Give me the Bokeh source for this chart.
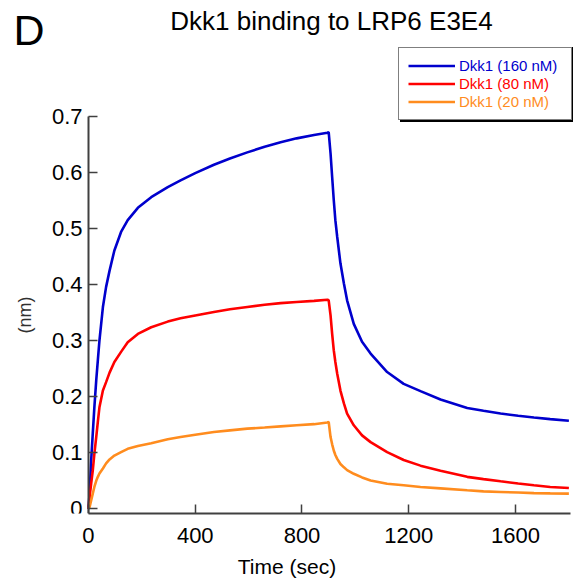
from bokeh.plotting import figure
from bokeh.models import Range1d, FixedTicker, Label, Legend, LegendItem
from bokeh.core.properties import value
from bokeh.embed import file_html
from bokeh.resources import INLINE

# ---- data ----
time_s = [0, 4, 10, 16, 22, 29, 35, 41, 54, 66, 79, 97, 122, 147, 185, 235, 297, 345,
          400, 470, 530, 595, 660, 720, 780, 845, 895, 900, 907, 913, 919, 925, 932,
          944, 957, 969, 994, 1025, 1057, 1119, 1181, 1244, 1319, 1419, 1480, 1544,
          1610, 1669, 1730, 1800]

dkk1_160 = [0.0, 0.027, 0.086, 0.134, 0.181, 0.229, 0.265, 0.300, 0.360, 0.396, 0.425,
            0.461, 0.494, 0.515, 0.537, 0.556, 0.574, 0.586,
            0.599, 0.614, 0.625, 0.636, 0.646, 0.654, 0.661, 0.667, 0.671, 0.672, 0.634,
            0.592, 0.551, 0.515, 0.485,
            0.438, 0.402, 0.372, 0.330, 0.298, 0.277, 0.244, 0.223, 0.210, 0.195, 0.180,
            0.175, 0.170, 0.166, 0.163, 0.160, 0.157]

dkk1_80 = [0.0, 0.021, 0.045, 0.068, 0.098, 0.128, 0.155, 0.181, 0.211, 0.226, 0.243,
           0.262, 0.280, 0.297, 0.312, 0.324, 0.334, 0.340,
           0.345, 0.351, 0.356, 0.360, 0.364, 0.367, 0.369, 0.371, 0.373, 0.372, 0.345,
           0.312, 0.283, 0.262, 0.241,
           0.211, 0.188, 0.170, 0.149, 0.131, 0.119, 0.101, 0.087, 0.077, 0.068, 0.057,
           0.053, 0.049, 0.045, 0.042, 0.039, 0.037]

dkk1_20 = [0.0, 0.003, 0.015, 0.027, 0.039, 0.050, 0.057, 0.063, 0.072, 0.081, 0.088,
           0.095, 0.101, 0.107, 0.112, 0.117, 0.124, 0.128,
           0.132, 0.137, 0.140, 0.143, 0.145, 0.147, 0.149, 0.151, 0.154, 0.155, 0.128,
           0.115, 0.104, 0.096, 0.089,
           0.080, 0.074, 0.069, 0.0625, 0.056, 0.0505, 0.0446, 0.042, 0.039, 0.0365, 0.033,
           0.031, 0.030, 0.029, 0.028, 0.0275, 0.027]

series_labels = ["Dkk1 (160 nM)", "Dkk1 (80 nM)", "Dkk1 (20 nM)"]
series_colors = ["#0000CD", "#FF0000", "#FF8C1E"]

x_ticks = [0, 400, 800, 1200, 1600]
y_ticks = [0, 0.1, 0.2, 0.3, 0.4, 0.5, 0.6, 0.7]
y_tick_labels = ["0", "0.1", "0.2", "0.3", "0.4", "0.5", "0.6", "0.7"]

title_text = "Dkk1 binding to LRP6 E3E4"
panel_letter = "D"
x_label = "Time (sec)"
y_label = "(nm)"

FONT = "Liberation Sans"
AXIS_COLOR = "#404040"

# the frame covers the whole picture above the x axis, so that the title, the
# panel letter and the legend can be drawn inside it; axes are bounded.
X_MIN, X_MAX = 0, 1806          # visible axis extent (sec)
Y_MIN, Y_MAX = -0.0084, 0.7     # visible axis extent (nm)
p = figure(frame_width=573, frame_height=513,
           min_border_left=0, min_border_right=0, min_border_top=0, min_border_bottom=66,
           x_range=Range1d(-329.7, 1817.3), y_range=Range1d(Y_MIN, 0.907),
           output_backend="svg", toolbar_location=None, title=None)
p.outline_line_color = None
p.xgrid.visible = False
p.ygrid.visible = False
p.background_fill_color = "white"
p.border_fill_color = "white"

renderers = []
for ys, col in zip([dkk1_160, dkk1_80, dkk1_20], series_colors):
    r = p.line(time_s, ys, line_color=col, line_width=2.6)
    renderers.append(r)

# axes
for ax in (p.xaxis[0], p.yaxis[0]):
    ax.axis_line_color = AXIS_COLOR
    ax.axis_line_width = 2
    ax.major_tick_line_color = AXIS_COLOR
    ax.major_tick_line_width = 1.5
    ax.major_tick_in = 9
    ax.major_tick_out = 0
    ax.minor_tick_line_color = None
    ax.major_label_text_font = FONT
    ax.major_label_text_font_size = "22px"
    ax.major_label_text_color = "black"
    ax.axis_label_text_font = FONT
    ax.axis_label_text_font_style = "normal"

p.xaxis.bounds = (X_MIN, X_MAX)
p.yaxis.bounds = (Y_MIN, Y_MAX)
p.yaxis.fixed_location = 0
p.xaxis.ticker = FixedTicker(ticks=x_ticks)
p.yaxis.ticker = FixedTicker(ticks=y_ticks)
p.yaxis.major_label_overrides = {t: s for t, s in zip(y_ticks, y_tick_labels)}
p.xaxis.major_label_standoff = 14
p.yaxis.major_label_standoff = 6

p.xaxis.axis_label = x_label
p.xaxis.axis_label_text_font_size = "21px"
p.xaxis.axis_label_standoff = 9
p.xaxis.axis_label_text_color = "black"

p.yaxis.axis_label = y_label
p.yaxis.axis_label_text_font_size = "18px"
p.yaxis.axis_label_standoff = 14
p.yaxis.axis_label_text_color = "#303030"

# title and panel letter (screen units relative to frame bottom-left)
p.add_layout(Label(x=331, y=492.5, x_units="screen", y_units="screen", text=title_text,
                   text_font=FONT, text_font_size="26px", text_align="center",
                   text_baseline="middle", text_color="black"))
p.add_layout(Label(x=13, y=484, x_units="screen", y_units="screen", text=panel_letter,
                   text_font=FONT, text_font_size="43px", text_align="left",
                   text_baseline="middle", text_color="black"))

# legend box (shadow + frame) and colored entries
dummy = p.line(x=[], y=[], line_alpha=0)
for loc, bg, bw in (((400, 391), "black", 2), ((398, 393), "white", 1.5)):
    box = Legend(items=[LegendItem(label=value(" "), renderers=[dummy])],
                 location=loc, padding=0, margin=0, spacing=0,
                 glyph_width=100, glyph_height=71, label_width=72, label_height=71,
                 label_standoff=0, border_line_color="black", border_line_width=bw,
                 background_fill_color=bg, background_fill_alpha=1.0)
    p.add_layout(box)

row_bottoms = [439, 421, 403]
for lab, col, r, vy in zip(series_labels, series_colors, renderers, row_bottoms):
    lg = Legend(items=[LegendItem(label=value(lab), renderers=[r])],
                location=(408, vy), padding=0, margin=0, spacing=0,
                glyph_width=47, glyph_height=17, label_height=17, label_standoff=4,
                label_text_font=FONT, label_text_font_size="15px", label_text_color=col,
                border_line_color=None, background_fill_alpha=0)
    p.add_layout(lg)

open("out.html", "w").write(file_html(p, INLINE))
